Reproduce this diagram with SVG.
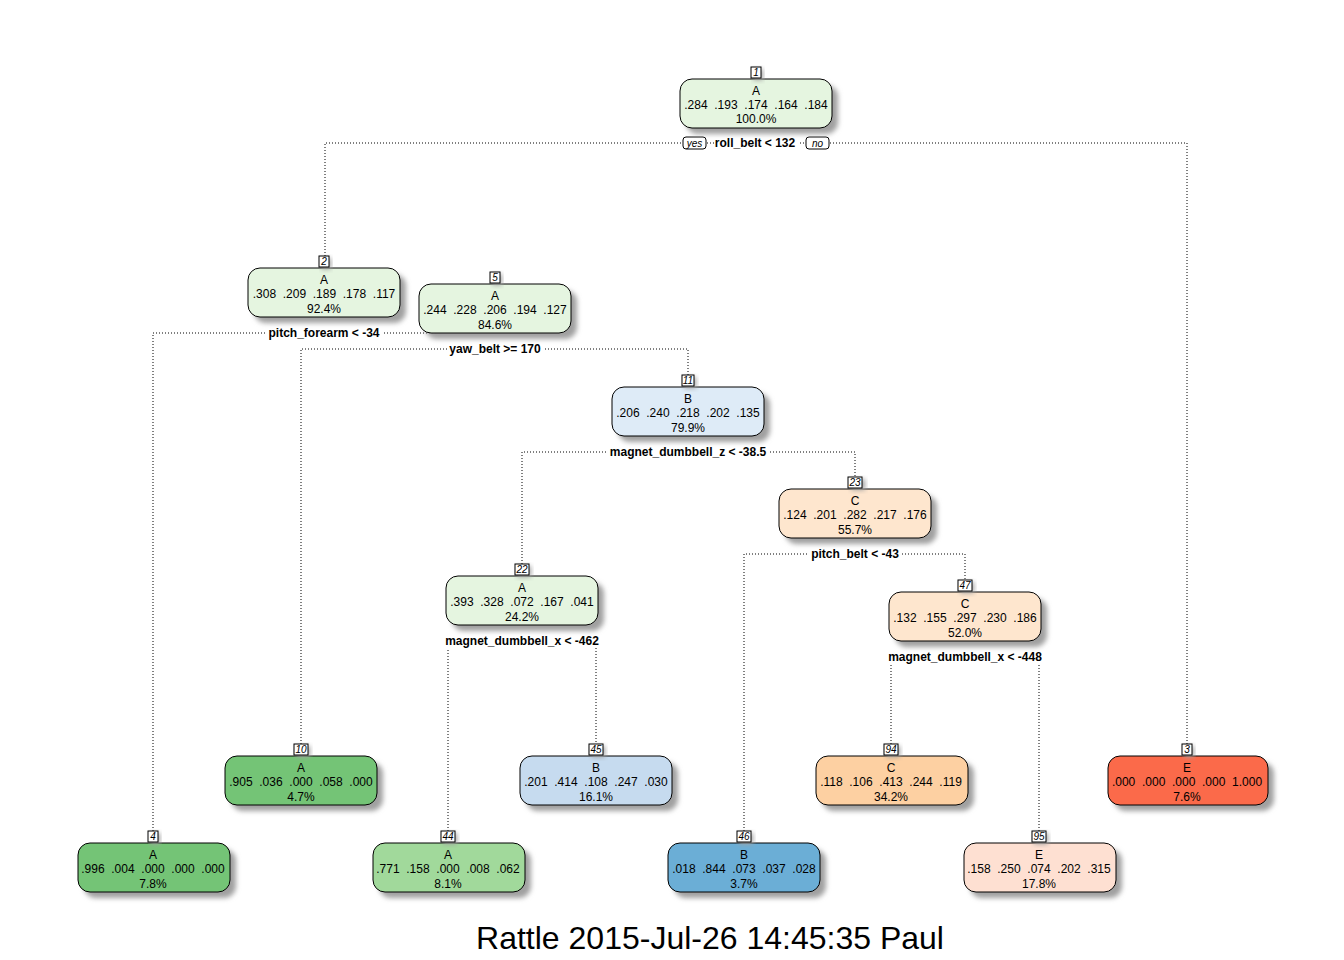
<svg xmlns="http://www.w3.org/2000/svg" width="1344" height="960" viewBox="0 0 1344 960">
<defs>
<filter id="blur" x="-20%" y="-30%" width="140%" height="160%"><feGaussianBlur stdDeviation="2.5"/></filter>
</defs>
<style>
text{font-family:"Liberation Sans",Arial,sans-serif;fill:#000}
.nt{font-size:12px;text-anchor:middle}
.lab{font-size:10px;font-style:italic;text-anchor:middle}
.split{font-size:12px;font-weight:bold;text-anchor:middle}
.yn{font-size:10px;font-style:italic;text-anchor:middle}
.box{stroke:#000;stroke-width:1}
.sh{fill:#a0a0a0;filter:url(#blur)}
.nb{fill:#fff;stroke:#000;stroke-width:1}
.bg{fill:#fff}
.con{fill:none;stroke:#000;stroke-width:1;stroke-dasharray:1,2}
.title{font-size:32px;text-anchor:middle}
</style>
<rect width="1344" height="960" fill="#fff"/>
<g id="connectors">
<path class="con" d="M325 256 V143 H1187 V744"/>
<path class="con" d="M153 831 V333 H495 V283"/>
<path class="con" d="M301 744 V349 H688 V375"/>
<path class="con" d="M522 564 V452 H855 V477"/>
<path class="con" d="M744 831 V554 H965 V580"/>
<path class="con" d="M448 831 V641 H596 V744"/>
<path class="con" d="M891 744 V657 H1039 V831"/>
</g>
<g id="splits">
<rect class="bg" x="714" y="136" width="84" height="14"/>
<text class="split" x="755" y="147">roll_belt &lt; 132</text>
<rect class="nb" x="683" y="137" width="23" height="12" rx="3"/>
<text class="yn" x="694.5" y="147">yes</text>
<rect class="nb" x="806" y="137" width="23" height="12" rx="3"/>
<text class="yn" x="817.5" y="147">no</text>
<rect class="bg" x="266" y="326" width="116" height="14"/>
<text class="split" x="324" y="337">pitch_forearm &lt; -34</text>
<rect class="bg" x="447" y="342" width="96" height="14"/>
<text class="split" x="495" y="353">yaw_belt &gt;= 170</text>
<rect class="bg" x="608" y="445" width="160" height="14"/>
<text class="split" x="688" y="456">magnet_dumbbell_z &lt; -38.5</text>
<rect class="bg" x="809" y="547" width="91" height="14"/>
<text class="split" x="855" y="558">pitch_belt &lt; -43</text>
<rect class="bg" x="443" y="634" width="158" height="14"/>
<text class="split" x="522" y="645">magnet_dumbbell_x &lt; -462</text>
<rect class="bg" x="886" y="650" width="158" height="14"/>
<text class="split" x="965" y="661">magnet_dumbbell_x &lt; -448</text>
</g>
<g id="node1">
<rect class="sh" x="686" y="85" width="152" height="49" rx="12"/>
<rect class="box" x="680" y="79" width="152" height="49" rx="12" fill="#e5f5e0"/>
<rect class="sh" x="753" y="69" width="10" height="11"/>
<rect class="nb" x="751" y="67" width="10" height="11"/>
<text class="lab" x="756" y="76">1</text>
<text class="nt" x="756" y="95">A</text>
<text class="nt" x="756" y="109" xml:space="preserve">.284  .193  .174  .164  .184</text>
<text class="nt" x="756" y="123">100.0%</text>
</g>
<g id="node2">
<rect class="sh" x="254" y="274" width="152" height="49" rx="12"/>
<rect class="box" x="248" y="268" width="152" height="49" rx="12" fill="#e5f5e0"/>
<rect class="sh" x="321" y="258" width="10" height="11"/>
<rect class="nb" x="319" y="256" width="10" height="11"/>
<text class="lab" x="324" y="265">2</text>
<text class="nt" x="324" y="284">A</text>
<text class="nt" x="324" y="298" xml:space="preserve">.308  .209  .189  .178  .117</text>
<text class="nt" x="324" y="313">92.4%</text>
</g>
<g id="node5">
<rect class="sh" x="425" y="290" width="152" height="49" rx="12"/>
<rect class="box" x="419" y="284" width="152" height="49" rx="12" fill="#e5f5e0"/>
<rect class="sh" x="492" y="274" width="10" height="11"/>
<rect class="nb" x="490" y="272" width="10" height="11"/>
<text class="lab" x="495" y="281">5</text>
<text class="nt" x="495" y="300">A</text>
<text class="nt" x="495" y="314" xml:space="preserve">.244  .228  .206  .194  .127</text>
<text class="nt" x="495" y="329">84.6%</text>
</g>
<g id="node11">
<rect class="sh" x="618" y="393" width="152" height="49" rx="12"/>
<rect class="box" x="612" y="387" width="152" height="49" rx="12" fill="#deebf7"/>
<rect class="sh" x="684" y="377" width="12" height="11"/>
<rect class="nb" x="682" y="375" width="12" height="11"/>
<text class="lab" x="688" y="384">11</text>
<text class="nt" x="688" y="403">B</text>
<text class="nt" x="688" y="417" xml:space="preserve">.206  .240  .218  .202  .135</text>
<text class="nt" x="688" y="432">79.9%</text>
</g>
<g id="node23">
<rect class="sh" x="785" y="495" width="152" height="49" rx="12"/>
<rect class="box" x="779" y="489" width="152" height="49" rx="12" fill="#fee6ce"/>
<rect class="sh" x="851" y="479" width="14" height="11"/>
<rect class="nb" x="848" y="477" width="14" height="11"/>
<text class="lab" x="855" y="486">23</text>
<text class="nt" x="855" y="505">C</text>
<text class="nt" x="855" y="519" xml:space="preserve">.124  .201  .282  .217  .176</text>
<text class="nt" x="855" y="534">55.7%</text>
</g>
<g id="node22">
<rect class="sh" x="452" y="582" width="152" height="49" rx="12"/>
<rect class="box" x="446" y="576" width="152" height="49" rx="12" fill="#e5f5e0"/>
<rect class="sh" x="517" y="566" width="14" height="11"/>
<rect class="nb" x="515" y="564" width="14" height="11"/>
<text class="lab" x="522" y="573">22</text>
<text class="nt" x="522" y="592">A</text>
<text class="nt" x="522" y="606" xml:space="preserve">.393  .328  .072  .167  .041</text>
<text class="nt" x="522" y="621">24.2%</text>
</g>
<g id="node47">
<rect class="sh" x="895" y="598" width="152" height="49" rx="12"/>
<rect class="box" x="889" y="592" width="152" height="49" rx="12" fill="#fee6ce"/>
<rect class="sh" x="960" y="582" width="14" height="11"/>
<rect class="nb" x="958" y="580" width="14" height="11"/>
<text class="lab" x="965" y="589">47</text>
<text class="nt" x="965" y="608">C</text>
<text class="nt" x="965" y="622" xml:space="preserve">.132  .155  .297  .230  .186</text>
<text class="nt" x="965" y="637">52.0%</text>
</g>
<g id="node10">
<rect class="sh" x="231" y="762" width="152" height="49" rx="12"/>
<rect class="box" x="225" y="756" width="152" height="49" rx="12" fill="#74c476"/>
<rect class="sh" x="296" y="746" width="14" height="11"/>
<rect class="nb" x="294" y="744" width="14" height="11"/>
<text class="lab" x="301" y="753">10</text>
<text class="nt" x="301" y="772">A</text>
<text class="nt" x="301" y="786" xml:space="preserve">.905  .036  .000  .058  .000</text>
<text class="nt" x="301" y="801">4.7%</text>
</g>
<g id="node45">
<rect class="sh" x="526" y="762" width="152" height="49" rx="12"/>
<rect class="box" x="520" y="756" width="152" height="49" rx="12" fill="#c6dbef"/>
<rect class="sh" x="591" y="746" width="14" height="11"/>
<rect class="nb" x="589" y="744" width="14" height="11"/>
<text class="lab" x="596" y="753">45</text>
<text class="nt" x="596" y="772">B</text>
<text class="nt" x="596" y="786" xml:space="preserve">.201  .414  .108  .247  .030</text>
<text class="nt" x="596" y="801">16.1%</text>
</g>
<g id="node94">
<rect class="sh" x="822" y="762" width="152" height="49" rx="12"/>
<rect class="box" x="816" y="756" width="152" height="49" rx="12" fill="#fdd0a2"/>
<rect class="sh" x="886" y="746" width="14" height="11"/>
<rect class="nb" x="884" y="744" width="14" height="11"/>
<text class="lab" x="891" y="753">94</text>
<text class="nt" x="891" y="772">C</text>
<text class="nt" x="891" y="786" xml:space="preserve">.118  .106  .413  .244  .119</text>
<text class="nt" x="891" y="801">34.2%</text>
</g>
<g id="node3">
<rect class="sh" x="1114" y="762" width="160" height="49" rx="12"/>
<rect class="box" x="1108" y="756" width="160" height="49" rx="12" fill="#fb6a4a"/>
<rect class="sh" x="1184" y="746" width="10" height="11"/>
<rect class="nb" x="1182" y="744" width="10" height="11"/>
<text class="lab" x="1187" y="753">3</text>
<text class="nt" x="1187" y="772">E</text>
<text class="nt" x="1187" y="786" xml:space="preserve">.000  .000  .000  .000  1.000</text>
<text class="nt" x="1187" y="801">7.6%</text>
</g>
<g id="node4">
<rect class="sh" x="84" y="849" width="152" height="49" rx="12"/>
<rect class="box" x="78" y="843" width="152" height="49" rx="12" fill="#74c476"/>
<rect class="sh" x="150" y="833" width="10" height="11"/>
<rect class="nb" x="148" y="831" width="10" height="11"/>
<text class="lab" x="153" y="840">4</text>
<text class="nt" x="153" y="859">A</text>
<text class="nt" x="153" y="873" xml:space="preserve">.996  .004  .000  .000  .000</text>
<text class="nt" x="153" y="888">7.8%</text>
</g>
<g id="node44">
<rect class="sh" x="379" y="849" width="152" height="49" rx="12"/>
<rect class="box" x="373" y="843" width="152" height="49" rx="12" fill="#a1d99b"/>
<rect class="sh" x="443" y="833" width="14" height="11"/>
<rect class="nb" x="441" y="831" width="14" height="11"/>
<text class="lab" x="448" y="840">44</text>
<text class="nt" x="448" y="859">A</text>
<text class="nt" x="448" y="873" xml:space="preserve">.771  .158  .000  .008  .062</text>
<text class="nt" x="448" y="888">8.1%</text>
</g>
<g id="node46">
<rect class="sh" x="674" y="849" width="152" height="49" rx="12"/>
<rect class="box" x="668" y="843" width="152" height="49" rx="12" fill="#6baed6"/>
<rect class="sh" x="739" y="833" width="14" height="11"/>
<rect class="nb" x="737" y="831" width="14" height="11"/>
<text class="lab" x="744" y="840">46</text>
<text class="nt" x="744" y="859">B</text>
<text class="nt" x="744" y="873" xml:space="preserve">.018  .844  .073  .037  .028</text>
<text class="nt" x="744" y="888">3.7%</text>
</g>
<g id="node95">
<rect class="sh" x="970" y="849" width="152" height="49" rx="12"/>
<rect class="box" x="964" y="843" width="152" height="49" rx="12" fill="#fee0d2"/>
<rect class="sh" x="1034" y="833" width="14" height="11"/>
<rect class="nb" x="1032" y="831" width="14" height="11"/>
<text class="lab" x="1039" y="840">95</text>
<text class="nt" x="1039" y="859">E</text>
<text class="nt" x="1039" y="873" xml:space="preserve">.158  .250  .074  .202  .315</text>
<text class="nt" x="1039" y="888">17.8%</text>
</g>
<text class="title" x="710" y="949">Rattle 2015-Jul-26 14:45:35 Paul</text>
</svg>
